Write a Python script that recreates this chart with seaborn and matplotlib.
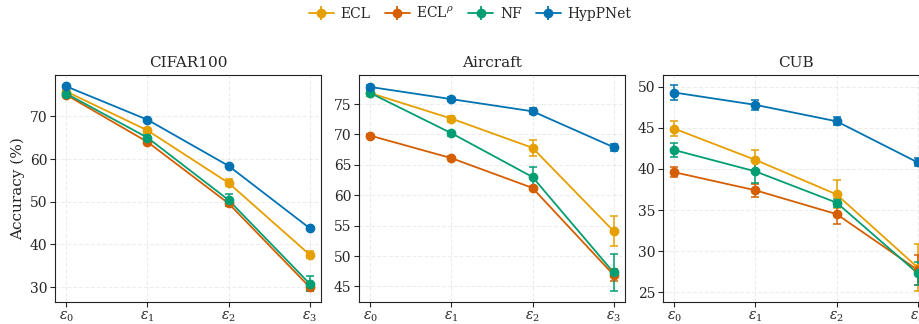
import numpy as np
import seaborn as sns
import matplotlib.pyplot as plt

# donnees
steps = [r"$\varepsilon_0$", r"$\varepsilon_1$", r"$\varepsilon_2$", r"$\varepsilon_3$"]
methods = ["ECL", r"ECL$^\rho$", "NF", "HypPNet"]
datasets = ["CIFAR100", "Aircraft", "CUB"]

cifar_mean = {
    "ECL": [75.8, 66.7, 54.4, 37.6],
    "ECLr": [75.0, 64.0, 49.6, 30.0],
    "NF": [75.3, 65.0, 50.4, 30.8],
    "HypPNet": [77.0, 69.2, 58.4, 43.8],
}
cifar_std = {
    "ECL": [0.4, 0.5, 0.8, 0.8],
    "ECLr": [0.3, 0.5, 0.6, 1.0],
    "NF": [0.4, 0.6, 1.4, 1.8],
    "HypPNet": [0.3, 0.3, 0.3, 0.3],
}
aircraft_mean = {
    "ECL": [76.8, 72.6, 67.8, 54.1],
    "ECLr": [69.8, 66.1, 61.2, 46.9],
    "NF": [76.8, 70.2, 63.0, 47.3],
    "HypPNet": [77.8, 75.8, 73.8, 67.9],
}
aircraft_std = {
    "ECL": [0.5, 0.5, 1.3, 2.5],
    "ECLr": [0.3, 0.3, 0.4, 1.0],
    "NF": [0.5, 0.4, 1.7, 3.1],
    "HypPNet": [0.3, 0.3, 0.5, 0.6],
}
cub_mean = {
    "ECL": [44.9, 41.1, 36.9, 28.0],
    "ECLr": [39.6, 37.4, 34.5, 27.7],
    "NF": [42.3, 39.7, 35.9, 27.3],
    "HypPNet": [49.3, 47.8, 45.8, 40.8],
}
cub_std = {
    "ECL": [0.9, 1.2, 1.7, 2.9],
    "ECLr": [0.6, 0.8, 1.2, 1.8],
    "NF": [0.9, 1.4, 0.5, 1.4],
    "HypPNet": [0.9, 0.6, 0.5, 0.5],
}

sns.set_style("ticks")
plt.rcParams["font.family"] = ["DejaVu Serif"]
plt.rcParams["mathtext.fontset"] = "dejavuserif"

colors = {"ECL": "#E69F00", "ECLr": "#D55E00", "NF": "#029E73", "HypPNet": "#0173B2"}
keys = ["ECL", "ECLr", "NF", "HypPNet"]

fig = plt.figure(figsize=(9.2, 3.24), dpi=100)
lefts = [0.0598, 0.3902, 0.7207]
axes = [fig.add_axes([l, 0.069, 0.2891, 0.7000]) for l in lefts]

all_mean = [cifar_mean, aircraft_mean, cub_mean]
all_std = [cifar_std, aircraft_std, cub_std]
x = np.arange(len(steps))

for ax, name, means, stds in zip(axes, datasets, all_mean, all_std):
    for k in keys:
        sns.lineplot(x=x, y=means[k], ax=ax, color=colors[k], lw=1.3, zorder=2)
        ax.errorbar(x, means[k], yerr=stds[k], fmt="o", color=colors[k],
                    ms=6, capsize=3, elinewidth=1.1, capthick=1.1, zorder=3)
    ax.set_title(name, fontsize=11)
    ax.set_xticks(x)
    ax.set_xticklabels(steps, fontsize=10)
    ax.tick_params(axis="both", length=3.5, width=0.8, pad=2)
    ax.tick_params(axis="y", labelsize=10)
    ax.grid(True, ls="--", alpha=0.35, lw=0.8)
    ax.set_xlim(-0.14, 3.14)
    for s in ax.spines.values():
        s.set_color("#222222")

axes[0].set_ylabel("Accuracy (%)", fontsize=11, labelpad=3)
axes[1].set_yticks([45, 50, 55, 60, 65, 70, 75])
axes[2].set_yticks([25, 30, 35, 40, 45, 50])

handles = []
for k, lab in zip(keys, methods):
    h = axes[0].errorbar([], [], yerr=[], fmt="-o", color=colors[k], ms=6,
                         capsize=3, lw=1.3, label=lab)
    handles.append(h)
fig.legend(handles, methods, loc="upper center", bbox_to_anchor=(0.511, 1.02),
           ncol=4, frameon=False, fontsize=10, handlelength=1.8,
           handletextpad=0.5, columnspacing=1.0)

plt.savefig("out.png", dpi=100)
